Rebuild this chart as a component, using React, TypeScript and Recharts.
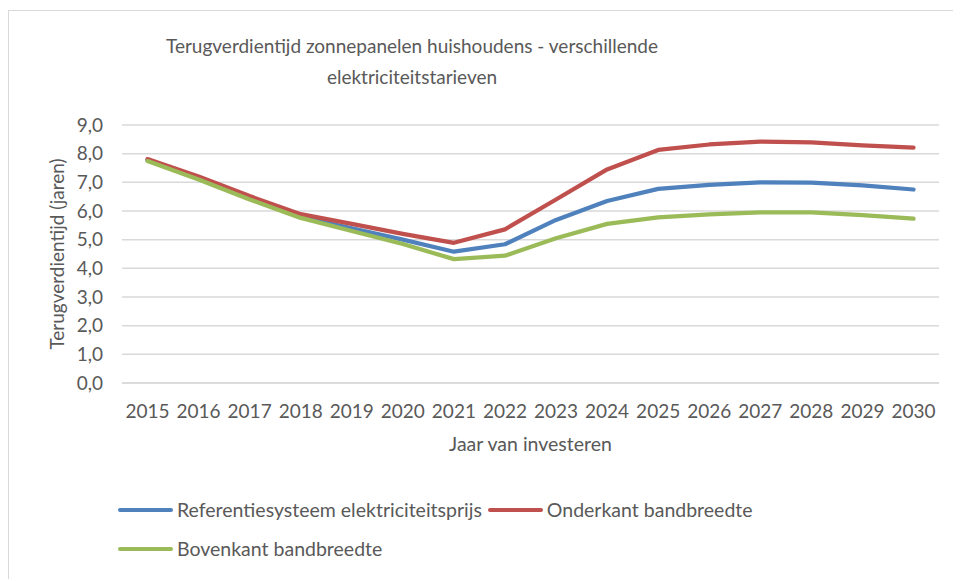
import React from 'react';
import { LineChart, Line, XAxis, YAxis, CartesianGrid, Label } from 'recharts';

const years = ['2015', '2016', '2017', '2018', '2019', '2020', '2021', '2022', '2023', '2024', '2025', '2026', '2027', '2028', '2029', '2030'];
const referentie = [7.78, 7.15, 6.45, 5.8, 5.4, 5.0, 4.58, 4.84, 5.69, 6.35, 6.77, 6.91, 7.0, 6.99, 6.89, 6.75];
const onderkant = [7.81, 7.2, 6.52, 5.89, 5.55, 5.2, 4.89, 5.36, 6.4, 7.45, 8.13, 8.32, 8.42, 8.39, 8.29, 8.21];
const bovenkant = [7.74, 7.1, 6.4, 5.76, 5.3, 4.85, 4.32, 4.44, 5.05, 5.55, 5.78, 5.88, 5.95, 5.95, 5.86, 5.73];
const yTicks = [0, 1, 2, 3, 4, 5, 6, 7, 8, 9];

const series = [
  { key: 'ref', name: 'Referentiesysteem elektriciteitsprijs', color: '#4f81bd', values: referentie },
  { key: 'onder', name: 'Onderkant bandbreedte', color: '#c0504d', values: onderkant },
  { key: 'boven', name: 'Bovenkant bandbreedte', color: '#9bbb59', values: bovenkant },
];

const data = years.map((year, i) => {
  const row: Record<string, string | number> = { year };
  series.forEach((s) => {
    row[s.key] = s.values[i];
  });
  return row;
});

const FONT = 'Lato, "Open Sans", sans-serif';
const TEXT = '#595959';

function LegendBox() {
  const item = (s: (typeof series)[number]) => (
    <span style={{ display: 'inline-flex', alignItems: 'center', marginRight: 6 }}>
      <span style={{ width: 55, height: 4.5, borderRadius: 2, background: s.color, marginRight: 4 }} />
      <span>{s.name}</span>
    </span>
  );
  return (
    <div style={{ fontFamily: FONT, fontSize: 19.5, color: TEXT, lineHeight: '20px' }}>
      <div style={{ display: 'flex' }}>
        {item(series[0])}
        {item(series[1])}
      </div>
      <div style={{ display: 'flex', marginTop: 19 }}>{item(series[2])}</div>
    </div>
  );
}

export default function App() {
  return (
    <div style={{ width: 953, height: 571, overflow: 'hidden', position: 'relative', background: '#fff' }}>
      <div
        style={{
          position: 'absolute',
          left: 0,
          top: 2,
          width: 1000,
          height: 700,
          border: '1.5px solid #d9d9d9',
          boxSizing: 'border-box',
        }}
      />
      <div
        style={{
          position: 'absolute',
          left: 104,
          width: 600,
          top: 22,
          textAlign: 'center',
          fontFamily: FONT,
          fontSize: 19,
          lineHeight: '31px',
          color: TEXT,
        }}
      >
        Terugverdientijd zonnepanelen huishoudens - verschillende
        <br />
        elektriciteitstarieven
      </div>
      <div style={{ position: 'absolute', left: 0, top: 0 }}>
        <LineChart width={953} height={571} data={data} margin={{ top: 117, right: 22, left: 0, bottom: 74 }}>
          <CartesianGrid vertical={false} stroke="#d9d9d9" strokeWidth={1.5} />
          <XAxis
            dataKey="year"
            axisLine={{ stroke: '#d9d9d9', strokeWidth: 1.5 }}
            tickLine={false}
            tickSize={0}
            tickMargin={22}
            height={122}
            interval={0}
            padding={{ left: 25.5, right: 25.5 }}
            tick={{ fill: TEXT, fontSize: 19, fontFamily: FONT }}
          >
            <Label value="Jaar van investeren" position="center" fill={TEXT} fontSize={19.5} fontFamily={FONT} />
          </XAxis>
          <YAxis
            width={114}
            domain={[0, 9]}
            ticks={yTicks}
            interval={0}
            axisLine={false}
            tickLine={false}
            tickSize={0}
            tickMargin={19}
            tickFormatter={(v: number) => v.toFixed(1).replace('.', ',')}
            tick={{ fill: TEXT, fontSize: 19, fontFamily: FONT }}
          >
            <Label
              value="Terugverdientijd (jaren)"
              angle={-90}
              position="center"
              dx={-8}
              fill={TEXT}
              fontSize={19}
              fontFamily={FONT}
            />
          </YAxis>
          {series.map((s) => (
            <Line
              key={s.key}
              dataKey={s.key}
              name={s.name}
              stroke={s.color}
              strokeWidth={4.25}
              strokeLinecap="round"
              strokeLinejoin="round"
              dot={false}
              activeDot={false}
              isAnimationActive={false}
            />
          ))}
        </LineChart>
      </div>
      <div style={{ position: 'absolute', left: 110, top: 492 }}>
        <LegendBox />
      </div>
    </div>
  );
}
